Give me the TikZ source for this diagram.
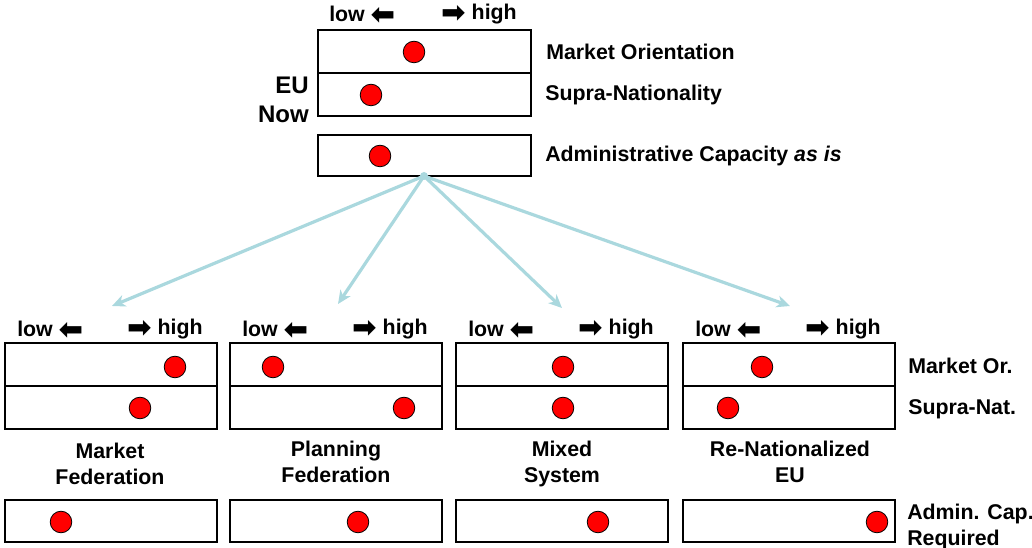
\documentclass[tikz,border=0pt]{standalone}
\usepackage{fontspec}
\setmainfont{Liberation Sans}
\newfontfamily\arrfont{DejaVu Sans}
\usetikzlibrary{arrows.meta}
\definecolor{dotred}{RGB}{255,0,0}
\definecolor{linkblue}{RGB}{170,216,222}
\newcommand{\larr}{{\arrfont\fontsize{22}{22}\selectfont\smash{\raisebox{-2.2pt}{⬅}}}}
\newcommand{\rarr}{{\arrfont\fontsize{22}{22}\selectfont\smash{\raisebox{-2.2pt}{➡}}}}
\begin{document}
\begin{tikzpicture}[x=0.75pt,y=-0.75pt,
  box/.style={draw=black,line width=1pt},
  dot/.style={circle,draw=black,line width=0.6pt,fill=dotred,minimum size=16.2pt,inner sep=0pt},
  txt/.style={font=\fontsize{16}{19.5}\selectfont\bfseries,inner sep=0pt},
  hdr/.style={txt},
  link/.style={draw=linkblue,line width=2.4pt,-{Stealth[length=10pt,width=9pt,inset=3pt]}},
]
\useasboundingbox (0,0) rectangle (1032,548);
% ---------- top group ----------
\node[hdr,anchor=west] (tlow) at (329,14) {low \larr};
\node[hdr,anchor=east] (thigh) at (517,14) {\rarr\ high};
\draw[box] (318,30) rectangle (531,116);
\draw[box] (318,73) -- (531,73);
\draw[box] (318,135) rectangle (531,176);
\node[dot] (t1) at (414,52) {};
\node[dot] (t2) at (371,95) {};
\node[dot] (t3) at (380,156) {};
\node[txt,anchor=west] (lmo) at (546,52) {Market Orientation};
\node[txt,anchor=west] (lsn) at (545,95) {Supra-Nationality};
\node[txt,anchor=west] (lac) at (545,156) {Administrative Capacity \textit{as is}};
\node[font=\fontsize{18}{22}\selectfont\bfseries,inner sep=0pt,align=right,anchor=east] (eunow) at (309,100) {EU\\Now};
% ---------- connectors ----------
\node[circle,fill=linkblue,inner sep=0pt,minimum size=6pt] (src) at (424,176) {};
\coordinate (g1) at (112,306);
\coordinate (g2) at (338,304);
\coordinate (g3) at (562,308);
\coordinate (g4) at (790,306);
\foreach \g in {g1,g2,g3,g4} \draw[link] (src.center) -- (\g);
% ---------- bottom groups ----------
\foreach \L/\n in {5/a,230/b,456/c,683/d}{
  \node[hdr,anchor=west] (low\n) at (\L+12,329) {low \larr};
  \node[hdr,anchor=east] (high\n) at (\L+198,329) {\rarr\ high};
  \draw[box] (\L,343) rectangle (\L+212,429);
  \draw[box] (\L,386) -- (\L+212,386);
  \draw[box] (\L,500) rectangle (\L+212,542);
}
% dots
\node[dot] (a1) at (175,367) {};
\node[dot] (a2) at (140,408) {};
\node[dot] (a3) at (61,522) {};
\node[dot] (b1) at (273,367) {};
\node[dot] (b2) at (404,408) {};
\node[dot] (b3) at (358,522) {};
\node[dot] (c1) at (563,367) {};
\node[dot] (c2) at (563,408) {};
\node[dot] (c3) at (598,522) {};
\node[dot] (d1) at (762,367) {};
\node[dot] (d2) at (728,408) {};
\node[dot] (d3) at (877,522) {};
% group labels
\node[txt,align=center] (na) at (110,464) {Market\\Federation};
\node[txt,align=center] (nb) at (336,462) {Planning\\Federation};
\node[txt,align=center] (nc) at (562,464) {Mixed\\System};
\node[txt,align=center] (nd) at (790,462) {Re-Nationalized\\EU};
% right labels
\node[txt,anchor=west] (rmo) at (908,366) {Market Or.};
\node[txt,anchor=west] (rsn) at (908,409) {Supra-Nat.};
\node[txt,anchor=west,align=left] (rac) at (907,527) {Admin. Cap.\\Required};
\end{tikzpicture}
\end{document}
